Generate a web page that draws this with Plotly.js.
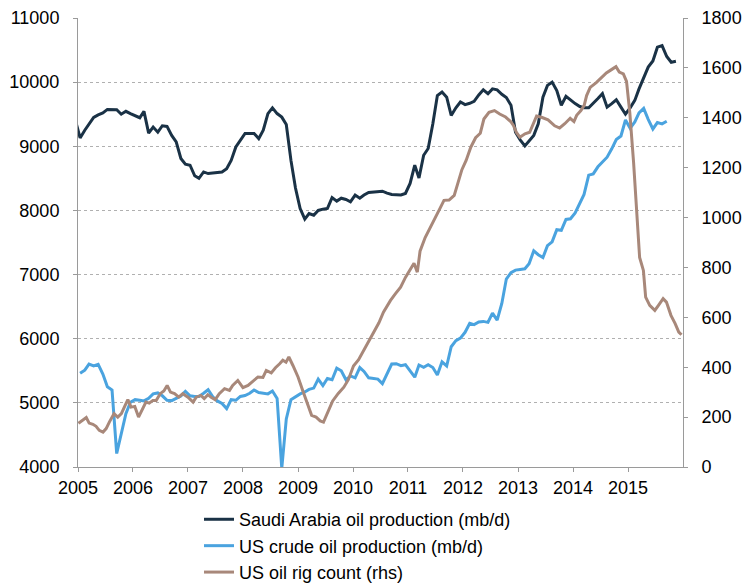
<!DOCTYPE html>
<html>
<head>
<meta charset="utf-8">
<script src="https://cdn.plot.ly/plotly-3.0.1.min.js"></script>
<style>html,body{margin:0;padding:0;background:#fff;}#chart{width:749px;height:584px;}</style>
</head>
<body>
<div id="chart"></div>
<script>
// ---- Data ----
// Saudi Arabia oil production (mb/d, shown in thousands), monthly Dec 2004 - Nov 2015
var saudiStart = [2004, 12];
var saudiValues = [9400,
  9130, 9250, 9350, 9450, 9490, 9520, 9575, 9575, 9570, 9500, 9545, 9510,
  9480, 9445, 9545, 9205, 9300, 9220, 9320, 9310, 9170, 9070, 8810, 8720,
  8705, 8540, 8500, 8600, 8575, 8580, 8585, 8600, 8650, 8780, 8990, 9100,
  9200, 9200, 9200, 9120, 9250, 9510, 9600, 9510, 9455, 9340, 8780, 8350,
  8030, 7865, 7950, 7925, 8000, 8020, 8030, 8200, 8145, 8190, 8170, 8135,
  8240, 8190, 8240, 8280, 8290, 8300, 8300, 8270, 8250, 8245, 8240, 8265,
  8420, 8705, 8505, 8860, 8965, 9350, 9790, 9845, 9765, 9480, 9600, 9690,
  9650, 9670, 9700, 9800, 9880, 9820, 9895, 9880, 9810, 9760, 9640, 9220,
  9100, 9005, 9090, 9170, 9350, 9765, 9950, 10000, 9870, 9640, 9780, 9720,
  9665, 9620, 9600, 9600, 9680, 9745, 9820, 9610, 9665, 9725, 9610, 9500,
  9600, 9715, 9895, 10080, 10235, 10330, 10545, 10570, 10400, 10310, 10325];

// US crude oil production, monthly Jan 2005 - Sep 2015
var usStart = [2005, 1];
var usValues = [
  5460, 5510, 5605, 5575, 5600, 5450, 5250, 5200, 4210, 4520, 4830, 5010,
  5050, 5040, 5030, 5070, 5140, 5155, 5110, 5040, 5035, 5070, 5105, 5180,
  5110, 5100, 5100, 5150, 5205, 5095, 5030, 4990, 4910, 5050, 5040, 5100,
  5115, 5150, 5200, 5160, 5145, 5140, 5185, 5070, 3980, 4750, 5050, 5100,
  5140, 5170, 5210, 5230, 5370, 5270, 5380, 5360, 5540, 5500, 5360, 5420,
  5390, 5550, 5490, 5390, 5375, 5370, 5300, 5460, 5605, 5610, 5580, 5595,
  5500, 5400, 5590, 5555, 5595, 5550, 5435, 5640, 5575, 5875, 5970, 6010,
  6100, 6240, 6220, 6260, 6270, 6255, 6400, 6290, 6550, 6930, 7030, 7070,
  7080, 7090, 7170, 7370, 7310, 7265, 7450, 7510, 7700, 7690, 7860, 7870,
  7960, 8100, 8250, 8550, 8570, 8680, 8760, 8830, 8960, 9105, 9160, 9410,
  9280, 9380, 9520, 9590, 9420, 9270, 9370, 9350, 9390];

// US oil rig count (rhs)
var rigDates = [
  '2005-01-04','2005-02-04','2005-02-25','2005-03-16','2005-04-10','2005-05-01','2005-05-22','2005-06-16',
  '2005-07-07','2005-07-28','2005-08-28','2005-09-22','2005-10-16','2005-11-07','2005-11-28','2005-12-19',
  '2006-01-13','2006-02-07','2006-03-01','2006-03-28','2006-04-19','2006-05-13','2006-06-04','2006-07-01',
  '2006-07-25','2006-08-16','2006-09-07','2006-10-04','2006-11-01','2006-11-28','2007-01-01','2007-02-04',
  '2007-02-25','2007-03-28','2007-04-19','2007-05-13','2007-06-04','2007-07-01','2007-07-28','2007-09-01',
  '2007-10-04','2007-10-25','2007-11-28','2008-01-01','2008-02-04','2008-03-07','2008-04-10','2008-05-13',
  '2008-06-04','2008-07-07','2008-08-04','2008-09-01','2008-09-22','2008-10-13','2008-11-01','2008-11-28',
  '2009-01-01','2009-02-01','2009-03-04','2009-04-01','2009-05-01','2009-05-28','2009-06-19','2009-07-16',
  '2009-08-19','2009-09-25','2009-11-01','2009-12-01','2010-01-04','2010-02-07','2010-03-10','2010-04-13',
  '2010-05-19','2010-06-22','2010-07-22','2010-09-07','2010-10-10','2010-11-13','2010-12-16','2011-01-19',
  '2011-02-10','2011-03-04','2011-03-22','2011-04-25','2011-06-04','2011-07-04','2011-08-04','2011-08-28',
  '2011-10-01','2011-11-04','2011-11-25','2011-12-25','2012-01-22','2012-02-22','2012-03-25','2012-04-25',
  '2012-05-19','2012-06-22','2012-07-28','2012-09-01','2012-10-10','2012-11-13','2012-12-01','2012-12-22',
  '2013-01-13','2013-02-16','2013-03-19','2013-04-10','2013-05-04','2013-06-10','2013-07-19','2013-09-01',
  '2013-10-04','2013-11-07','2013-12-13','2014-01-07','2014-01-25','2014-02-22','2014-03-16','2014-04-01',
  '2014-04-25','2014-06-04','2014-07-07','2014-08-10','2014-09-13','2014-10-13','2014-11-04','2014-12-01',
  '2014-12-22','2015-01-13','2015-02-07','2015-02-28','2015-03-19','2015-04-13','2015-04-28','2015-05-25',
  '2015-06-28','2015-07-22','2015-08-22','2015-09-13','2015-10-13','2015-11-10','2015-12-04','2015-12-22'];
var rigValues = [
  175, 187, 198, 176, 171, 163, 147, 140,
  154, 180, 214, 200, 214, 243, 270, 240,
  243, 200, 230, 260, 256, 267, 267, 294,
  305, 327, 300, 294, 280, 294, 280, 260,
  280, 287, 274, 290, 280, 270, 294, 314,
  307, 327, 347, 318, 327, 343, 361, 359,
  387, 377, 398, 414, 428, 420, 441, 407,
  361, 307, 250, 207, 200, 185, 180, 220,
  265, 295, 320, 350, 405, 430, 465, 505,
  540, 578, 621, 668, 695, 721, 761, 795,
  817, 781, 865, 920, 970, 1002, 1040, 1069,
  1070, 1089, 1136, 1192, 1229, 1282, 1320, 1338,
  1395, 1422, 1429, 1415, 1403, 1385, 1369, 1340,
  1322, 1336, 1342, 1376, 1407, 1401, 1392, 1368,
  1359, 1376, 1398, 1385, 1410, 1429, 1450, 1489,
  1522, 1541, 1560, 1580, 1593, 1605, 1583, 1576,
  1546, 1420, 1220, 1010, 840, 788, 681, 648,
  628, 648, 675, 661, 608, 575, 541, 530];

var yearTicks = ['2005','2006','2007','2008','2009','2010','2011','2012','2013','2014','2015'];
var seriesNames = ['Saudi Arabia oil production (mb/d)', 'US crude oil production (mb/d)', 'US oil rig count (rhs)'];

// monthly date labels (mid-month)
function monthDates(start, n) {
  var out = [], y = start[0], m = start[1];
  for (var i = 0; i < n; i++) {
    out.push(y + '-' + (m < 10 ? '0' + m : m) + '-15');
    m++; if (m > 12) { m = 1; y++; }
  }
  return out;
}

var FONT = 'Liberation Sans, Arial, Helvetica, sans-serif';

var traces = [
  {x: monthDates(saudiStart, saudiValues.length), y: saudiValues, name: seriesNames[0],
   type: 'scatter', mode: 'lines', line: {color: '#1a3246', width: 3}},
  {x: monthDates(usStart, usValues.length), y: usValues, name: seriesNames[1],
   type: 'scatter', mode: 'lines', line: {color: '#4aa3df', width: 3}},
  {x: rigDates, y: rigValues, name: seriesNames[2], yaxis: 'y2',
   type: 'scatter', mode: 'lines', line: {color: '#a8887a', width: 3}}
];

var layout = {
  width: 749, height: 584,
  margin: {l: 78, r: 66, t: 17.5, b: 117.3, pad: 0},
  paper_bgcolor: '#ffffff', plot_bgcolor: '#ffffff',
  font: {family: FONT, size: 18, color: '#000000'},
  showlegend: true,
  legend: {xref: 'paper', yref: 'container', x: 0.2, xanchor: 'left', y: 0.142, yanchor: 'top',
           orientation: 'v',
           font: {family: FONT, size: 18, color: '#000'}, bgcolor: 'rgba(0,0,0,0)',
           tracegroupgap: 0, itemwidth: 30},
  xaxis: {type: 'date', range: ['2005-01-01', '2016-01-01'],
          tickvals: yearTicks.map(function(y){return y + '-01-01';}), ticktext: yearTicks,
          showgrid: false, zeroline: false, showline: true, linecolor: '#9a9a9a', linewidth: 1,
          ticks: 'outside', ticklen: 4, tickcolor: '#9a9a9a', tickfont: {size: 18}},
  yaxis: {range: [4000, 11000], dtick: 1000, tick0: 4000, tickformat: 'd', showgrid: true,
          gridcolor: '#b0b0b0', griddash: 'dot', gridwidth: 1, zeroline: false,
          showline: true, linecolor: '#9a9a9a', linewidth: 1,
          ticks: 'outside', ticklen: 4, tickcolor: '#9a9a9a', ticklabelstandoff: 10,
          tickfont: {size: 18}},
  yaxis2: {range: [0, 1800], dtick: 200, tick0: 0, tickformat: 'd', overlaying: 'y', side: 'right',
           showgrid: false, zeroline: false, showline: true, linecolor: '#9a9a9a', linewidth: 1,
           ticks: 'outside', ticklen: 4, tickcolor: '#9a9a9a', ticklabelstandoff: 10,
           tickfont: {size: 18}}
};

Plotly.newPlot('chart', traces, layout, {displayModeBar: false, staticPlot: true});
</script>
</body>
</html>
